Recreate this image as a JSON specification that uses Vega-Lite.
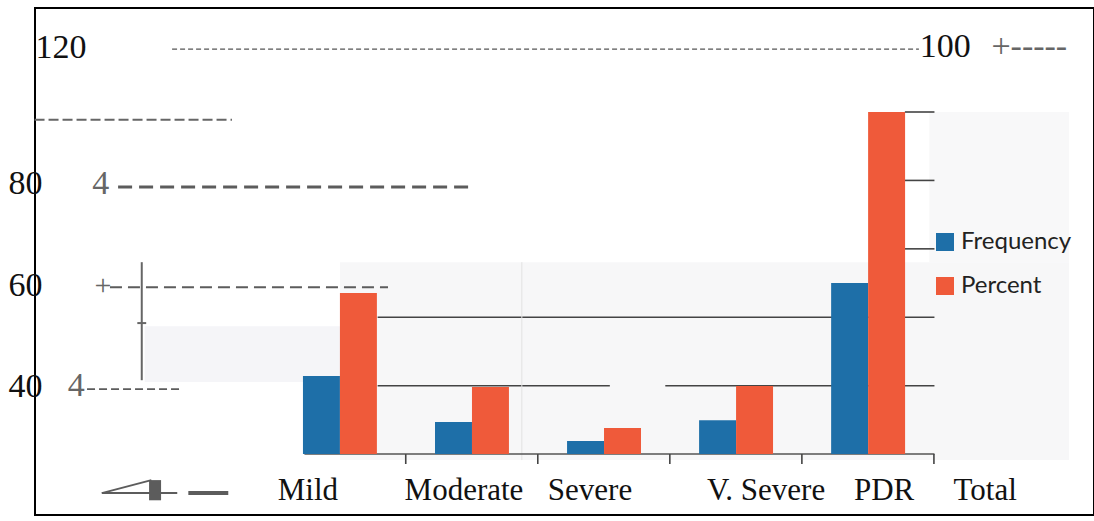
{
  "$schema": "https://vega.github.io/schema/vega-lite/v6.json",
  "width": 1059,
  "height": 507,
  "autosize": {"type": "none"},
  "padding": {"left": 35, "top": 8, "right": 0, "bottom": 6},
  "background": "white",
  "config": {
    "view": {"stroke": "#000000", "strokeWidth": 2},
    "font": "Liberation Serif"
  },
  "data": {
    "values": [
      {"Category": "Mild", "Series": "Frequency", "Value": 22.8},
      {"Category": "Mild", "Series": "Percent", "Value": 47.1},
      {"Category": "Moderate", "Series": "Frequency", "Value": 9.4},
      {"Category": "Moderate", "Series": "Percent", "Value": 19.6},
      {"Category": "Severe", "Series": "Frequency", "Value": 3.8},
      {"Category": "Severe", "Series": "Percent", "Value": 7.6},
      {"Category": "V. Severe", "Series": "Frequency", "Value": 9.9},
      {"Category": "V. Severe", "Series": "Percent", "Value": 19.9},
      {"Category": "PDR", "Series": "Frequency", "Value": 50},
      {"Category": "PDR", "Series": "Percent", "Value": 100}
    ]
  },
  "layer": [
    {
      "data": {"values": [{}]},
      "mark": {"type": "rect", "color": "#f7f7f8"},
      "encoding": {
        "x": {"datum": "Mild", "type": "nominal", "bandPosition": 0.5},
        "x2": {"datum": "Mild", "bandPosition": 10.36},
        "y": {"datum": 56.1, "type": "quantitative"},
        "y2": {"datum": -1.75}
      }
    },
    {
      "data": {"values": [{}]},
      "mark": {"type": "rect", "color": "#f8f8f9"},
      "encoding": {
        "x": {"datum": "Mild", "type": "nominal", "bandPosition": 8.47},
        "x2": {"datum": "Mild", "bandPosition": 10.36},
        "y": {"datum": 100, "type": "quantitative"},
        "y2": {"datum": 56.1}
      }
    },
    {
      "data": {"values": [{}]},
      "mark": {"type": "rect", "color": "#f5f5f8"},
      "encoding": {
        "x": {"datum": "Mild", "type": "nominal", "bandPosition": -2.14},
        "x2": {"datum": "Mild", "bandPosition": 0.5},
        "y": {"datum": 37.4, "type": "quantitative"},
        "y2": {"datum": 21.1}
      }
    },
    {
      "data": {"values": [{"v": 40}]},
      "mark": {"type": "rule", "color": "#444444", "strokeWidth": 1.6},
      "encoding": {
        "x": {"datum": "Mild", "type": "nominal", "bandPosition": 1.01},
        "x2": {"datum": "Mild", "bandPosition": 8.54},
        "y": {"field": "v", "type": "quantitative"}
      }
    },
    {
      "data": {"values": [{"v": 20}]},
      "mark": {"type": "rule", "color": "#444444", "strokeWidth": 1.6},
      "encoding": {
        "x": {"datum": "Mild", "type": "nominal", "bandPosition": 1.01},
        "x2": {"datum": "Mild", "bandPosition": 4.15},
        "y": {"field": "v", "type": "quantitative"}
      }
    },
    {
      "data": {"values": [{"v": 20}]},
      "mark": {"type": "rule", "color": "#444444", "strokeWidth": 1.6},
      "encoding": {
        "x": {"datum": "Mild", "type": "nominal", "bandPosition": 4.9},
        "x2": {"datum": "Mild", "bandPosition": 8.54},
        "y": {"field": "v", "type": "quantitative"}
      }
    },
    {
      "data": {"values": [{"v": 60}, {"v": 80}, {"v": 100}]},
      "mark": {"type": "rule", "color": "#444444", "strokeWidth": 1.6},
      "encoding": {
        "x": {"datum": "Mild", "type": "nominal", "bandPosition": 8.14},
        "x2": {"datum": "Mild", "bandPosition": 8.54},
        "y": {"field": "v", "type": "quantitative"}
      }
    },
    {
      "data": {"values": [{}]},
      "mark": {"type": "rule", "color": "#e2e2e2", "strokeWidth": 1},
      "encoding": {
        "x": {"datum": "Mild", "type": "nominal", "bandPosition": 2.96},
        "y": {"datum": 56.1, "type": "quantitative"},
        "y2": {"datum": -1.75}
      }
    },
    {
      "data": {"values": [{}]},
      "mark": {"type": "rule", "color": "#555555", "strokeWidth": 1.5},
      "encoding": {
        "x": {"datum": "Mild", "type": "nominal", "bandPosition": 0.02},
        "x2": {"datum": "Mild", "bandPosition": 8.54},
        "y": {"datum": 0, "type": "quantitative"}
      }
    },
    {
      "transform": [{"filter": "datum.Series === 'Frequency'"}],
      "mark": {"type": "rule", "color": "#444444", "strokeWidth": 1.6},
      "encoding": {
        "x": {"field": "Category", "type": "nominal", "bandPosition": 1.39},
        "y": {"datum": 0, "type": "quantitative"},
        "y2": {"datum": -2.9}
      }
    },
    {
      "mark": {"type": "bar"},
      "encoding": {
        "x": {
          "field": "Category",
          "type": "nominal",
          "sort": null,
          "title": null,
          "scale": {
            "domain": [" ", "Mild", "Moderate", "Severe", "V. Severe", "PDR", "Total"],
            "paddingInner": 0.44,
            "paddingOuter": 0.73,
            "align": 0.705
          },
          "axis": {
            "orient": "bottom",
            "offset": -61,
            "domain": false,
            "ticks": false,
            "labelAngle": 0,
            "labelAlign": "center",
            "labelFont": "Liberation Serif",
            "labelFontSize": 31,
            "labelColor": "#111111",
            "labelPadding": 36,
            "labelOffset": {
              "condition": [
                {"test": "datum.value === 'Mild'", "value": -32},
                {"test": "datum.value === 'Moderate'", "value": -8},
                {"test": "datum.value === 'Severe'", "value": -14},
                {"test": "datum.value === 'V. Severe'", "value": 30},
                {"test": "datum.value === 'PDR'", "value": 16}
              ],
              "value": -15
            }
          }
        },
        "xOffset": {"field": "Series", "type": "nominal", "scale": {"paddingInner": 0, "paddingOuter": 0}},
        "y": {
          "field": "Value",
          "type": "quantitative",
          "title": null,
          "scale": {"domain": [-17.8, 130.4], "nice": false, "zero": false},
          "axis": {
            "orient": "left",
            "domain": false,
            "ticks": false,
            "grid": false,
            "values": [19.9, 49.4, 79.1, 118.9],
            "labelExpr": "datum.value > 100 ? '120' : datum.value > 70 ? '80' : datum.value > 40 ? '60' : '40'",
            "labelAlign": "left",
            "labelBaseline": "middle",
            "labelPadding": {"condition": {"test": "datum.value > 100", "value": 0}, "value": 27},
            "labelFont": "Liberation Serif",
            "labelFontSize": 34,
            "labelColor": "#111111"
          }
        },
        "y2": {"datum": 0},
        "color": {
          "field": "Series",
          "type": "nominal",
          "scale": {"domain": ["Frequency", "Percent"], "range": ["#1e6fa8", "#ef5a3a"]},
          "legend": {
            "title": null,
            "orient": "none",
            "legendX": 898,
            "legendY": 222,
            "symbolType": "square",
            "symbolSize": 324,
            "symbolStrokeWidth": 0,
            "labelFont": "Lato",
            "labelFontSize": 24,
            "labelColor": "#222222",
            "labelOffset": 4,
            "rowPadding": 20
          }
        }
      }
    },
    {
      "data": {"values": [{}]},
      "mark": {"type": "rule", "color": "#555555", "strokeWidth": 1.2, "strokeDash": [5, 3]},
      "encoding": {
        "x": {"datum": "Mild", "type": "nominal", "bandPosition": -1.77},
        "x2": {"datum": "Mild", "bandPosition": 8.33},
        "y": {"datum": 118.4, "type": "quantitative"}
      }
    },
    {
      "data": {"values": [{}]},
      "mark": {"type": "text", "text": "100", "font": "Liberation Serif", "fontSize": 34, "align": "left", "baseline": "middle", "color": "#111111"},
      "encoding": {
        "x": {"datum": "Mild", "type": "nominal", "bandPosition": 8.34},
        "y": {"datum": 118.9, "type": "quantitative"}
      }
    },
    {
      "data": {"values": [{}]},
      "mark": {"type": "text", "text": "+-----", "font": "Liberation Serif", "fontSize": 34, "align": "left", "baseline": "middle", "color": "#666666"},
      "encoding": {
        "x": {"datum": "Mild", "type": "nominal", "bandPosition": 9.31},
        "y": {"datum": 118.9, "type": "quantitative"}
      }
    },
    {
      "data": {"values": [{}]},
      "mark": {"type": "rule", "color": "#666666", "strokeWidth": 2, "strokeDash": [10, 4]},
      "encoding": {
        "x": {"datum": "Mild", "type": "nominal", "bandPosition": -3.63},
        "x2": {"datum": "Mild", "bandPosition": -0.96},
        "y": {"datum": 97.7, "type": "quantitative"}
      }
    },
    {
      "data": {"values": [{}]},
      "mark": {"type": "text", "text": "4", "font": "Liberation Serif", "fontSize": 34, "align": "left", "baseline": "middle", "color": "#666666"},
      "encoding": {
        "x": {"datum": "Mild", "type": "nominal", "bandPosition": -2.85},
        "y": {"datum": 79.1, "type": "quantitative"}
      }
    },
    {
      "data": {"values": [{}]},
      "mark": {"type": "rule", "color": "#5c5c5c", "strokeWidth": 3, "strokeDash": [14, 7]},
      "encoding": {
        "x": {"datum": "Mild", "type": "nominal", "bandPosition": -2.5},
        "x2": {"datum": "Mild", "bandPosition": 2.26},
        "y": {"datum": 78.1, "type": "quantitative"}
      }
    },
    {
      "data": {"values": [{}]},
      "mark": {"type": "text", "text": "+", "font": "Liberation Serif", "fontSize": 30, "align": "left", "baseline": "middle", "color": "#666666"},
      "encoding": {
        "x": {"datum": "Mild", "type": "nominal", "bandPosition": -2.82},
        "y": {"datum": 49.1, "type": "quantitative"}
      }
    },
    {
      "data": {"values": [{}]},
      "mark": {"type": "rule", "color": "#5c5c5c", "strokeWidth": 2, "strokeDash": [12, 6]},
      "encoding": {
        "x": {"datum": "Mild", "type": "nominal", "bandPosition": -2.61},
        "x2": {"datum": "Mild", "bandPosition": 1.15},
        "y": {"datum": 48.8, "type": "quantitative"}
      }
    },
    {
      "data": {"values": [{}]},
      "mark": {"type": "text", "text": "4", "font": "Liberation Serif", "fontSize": 34, "align": "left", "baseline": "middle", "color": "#666666"},
      "encoding": {
        "x": {"datum": "Mild", "type": "nominal", "bandPosition": -3.18},
        "y": {"datum": 19.9, "type": "quantitative"}
      }
    },
    {
      "data": {"values": [{}]},
      "mark": {"type": "rule", "color": "#5c5c5c", "strokeWidth": 1.6, "strokeDash": [8, 4]},
      "encoding": {
        "x": {"datum": "Mild", "type": "nominal", "bandPosition": -2.92},
        "x2": {"datum": "Mild", "bandPosition": -1.66},
        "y": {"datum": 19.0, "type": "quantitative"}
      }
    },
    {
      "data": {"values": [{}]},
      "mark": {"type": "rule", "color": "#666666", "strokeWidth": 2},
      "encoding": {
        "x": {"datum": "Mild", "type": "nominal", "bandPosition": -2.18},
        "y": {"datum": 56.1, "type": "quantitative"},
        "y2": {"datum": 21.6}
      }
    },
    {
      "data": {"values": [{}]},
      "mark": {"type": "rule", "color": "#666666", "strokeWidth": 2},
      "encoding": {
        "x": {"datum": "Mild", "type": "nominal", "bandPosition": -2.24},
        "x2": {"datum": "Mild", "bandPosition": -2.12},
        "y": {"datum": 38.3, "type": "quantitative"}
      }
    },
    {
      "data": {"values": [{}]},
      "mark": {"type": "rule", "color": "#5c5c5c", "strokeWidth": 2},
      "encoding": {
        "x": {"datum": "Mild", "type": "nominal", "bandPosition": -2.72},
        "x2": {"datum": "Mild", "bandPosition": -1.7},
        "y": {"datum": -11.4, "type": "quantitative"}
      }
    },
    {
      "data": {"values": [{}]},
      "mark": {"type": "rule", "color": "#5c5c5c", "strokeWidth": 2},
      "encoding": {
        "x": {"datum": "Mild", "type": "nominal", "bandPosition": -2.72},
        "x2": {"datum": "Mild", "bandPosition": -2.05},
        "y": {"datum": -11.4, "type": "quantitative"},
        "y2": {"datum": -7.6}
      }
    },
    {
      "data": {"values": [{}]},
      "mark": {"type": "rule", "color": "#5c5c5c", "strokeWidth": 12},
      "encoding": {
        "x": {"datum": "Mild", "type": "nominal", "bandPosition": -2.0},
        "y": {"datum": -7.6, "type": "quantitative"},
        "y2": {"datum": -13.5}
      }
    },
    {
      "data": {"values": [{}]},
      "mark": {"type": "rule", "color": "#5c5c5c", "strokeWidth": 4},
      "encoding": {
        "x": {"datum": "Mild", "type": "nominal", "bandPosition": -1.55},
        "x2": {"datum": "Mild", "bandPosition": -1.01},
        "y": {"datum": -11.4, "type": "quantitative"}
      }
    }
  ]
}
